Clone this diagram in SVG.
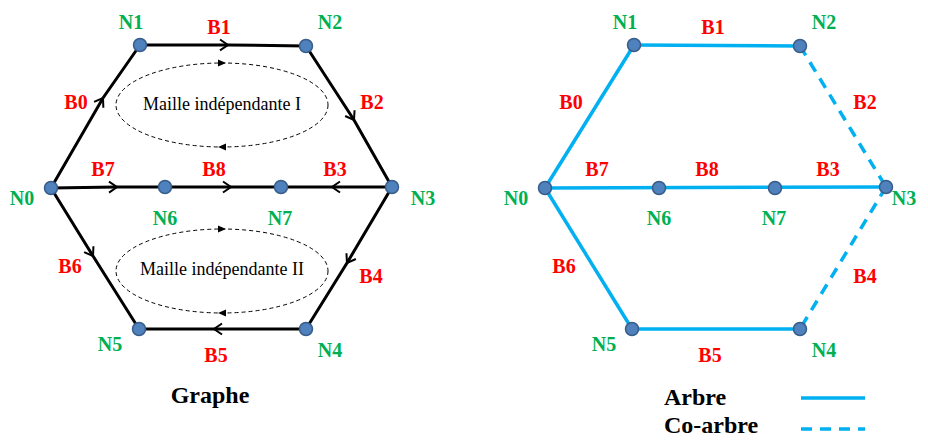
<svg xmlns="http://www.w3.org/2000/svg" width="928" height="440" viewBox="0 0 928 440">
<style>
.e{stroke:#000;stroke-width:3;fill:none}
.t{stroke:#00B0F0;stroke-width:3.5;fill:none}
.c{stroke:#00B0F0;stroke-width:3.5;fill:none;stroke-dasharray:11,8}
.n{fill:#4F81BD;stroke:#385D8A;stroke-width:1.5}
text{font-family:'Liberation Serif','Times New Roman','DejaVu Serif',serif}
.nl{font-weight:bold;font-size:20px;fill:#00B050;text-anchor:middle}
.bl{font-weight:bold;font-size:20px;fill:#FF0000;text-anchor:middle}
.m{font-size:18px;fill:#000;text-anchor:middle}
.ti{font-weight:bold;font-size:24px;fill:#000}
.el{stroke:#000;stroke-width:1;fill:none;stroke-dasharray:4,3}
</style>
<defs>
<marker id="chev" markerUnits="userSpaceOnUse" markerWidth="14" markerHeight="14" viewBox="-10 -7 14 14" refX="0" refY="0" orient="auto">
<path d="M-8,-5.5 L0,0 L-8,5.5" fill="none" stroke="#000" stroke-width="2"/>
</marker>
<marker id="tri" markerUnits="userSpaceOnUse" markerWidth="10" markerHeight="10" viewBox="-8 -4 10 8" refX="0" refY="0" orient="auto">
<path d="M-8,-3.5 L0,0 L-8,3.5 Z" fill="#000"/>
</marker>
</defs>

<g id="connectors">
<path id="B0" class="e" d="M51,188 L103,98 L140,45" marker-mid="url(#chev)"/>
<path id="B1" class="e" d="M140,45 L228,45 L306,46" marker-mid="url(#chev)"/>
<path id="B2" class="e" d="M306,46 L354,120 L392,187" marker-mid="url(#chev)"/>
<path id="B3" class="e" d="M392,187 L332,187 L281,187" marker-mid="url(#chev)"/>
<path id="B7" class="e" d="M51,188 L117,187 L165,187" marker-mid="url(#chev)"/>
<path id="B8" class="e" d="M165,187 L231,187 L281,187" marker-mid="url(#chev)"/>
<path id="B6" class="e" d="M51,188 L93,256 L139,329" marker-mid="url(#chev)"/>
<path id="B4" class="e" d="M392,187 L347,263 L306,329" marker-mid="url(#chev)"/>
<path id="B5" class="e" d="M306,329 L214,329 L139,329" marker-mid="url(#chev)"/>

<ellipse class="el" cx="222" cy="105" rx="106" ry="42"/>
<path d="M215,63 L226,63" stroke="none" fill="none" marker-end="url(#tri)"/>
<path d="M229,147 L218,147" stroke="none" fill="none" marker-end="url(#tri)"/>
<ellipse class="el" cx="222" cy="271" rx="106" ry="42"/>
<path d="M215,229 L226,229" stroke="none" fill="none" marker-end="url(#tri)"/>
<path d="M229,313 L218,313" stroke="none" fill="none" marker-end="url(#tri)"/>

<line class="t" x1="545" y1="188" x2="634" y2="45"/>
<line class="t" x1="634" y1="45" x2="800" y2="46"/>
<line class="c" x1="800" y1="46" x2="886" y2="187"/>
<line class="t" x1="545" y1="188" x2="886" y2="187"/>
<line class="t" x1="545" y1="188" x2="632" y2="329"/>
<line class="t" x1="632" y1="329" x2="800" y2="329"/>
<line class="c" x1="886" y1="187" x2="800" y2="329"/>

<line class="t" x1="801" y1="398" x2="865" y2="398"/>
<line class="c" x1="801" y1="429" x2="865" y2="429"/>
</g>

<g id="left-labels">
<text class="m" x="222" y="110">Maille indépendante I</text>
<text class="m" x="222" y="275">Maille indépendante II</text>
<text class="bl" x="219" y="34">B1</text>
<text class="bl" x="76" y="109">B0</text>
<text class="bl" x="372" y="109">B2</text>
<text class="bl" x="103" y="176">B7</text>
<text class="bl" x="214" y="176">B8</text>
<text class="bl" x="335" y="176">B3</text>
<text class="bl" x="70" y="273">B6</text>
<text class="bl" x="371" y="283">B4</text>
<text class="bl" x="216" y="362">B5</text>
<text class="ti" x="210" y="403" text-anchor="middle">Graphe</text>
</g>

<g id="L-N0"><circle class="n" cx="51" cy="188" r="6.5"/><text class="nl" x="22" y="205">N0</text></g>
<g id="L-N1"><circle class="n" cx="140" cy="45" r="6.5"/><text class="nl" x="131" y="29">N1</text></g>
<g id="L-N2"><circle class="n" cx="306" cy="46" r="6.5"/><text class="nl" x="330" y="29">N2</text></g>
<g id="L-N3"><circle class="n" cx="392" cy="187" r="6.5"/><text class="nl" x="423" y="205">N3</text></g>
<g id="L-N4"><circle class="n" cx="306" cy="329" r="6.5"/><text class="nl" x="330" y="357">N4</text></g>
<g id="L-N5"><circle class="n" cx="139" cy="329" r="6.5"/><text class="nl" x="110" y="351">N5</text></g>
<g id="L-N6"><circle class="n" cx="165" cy="187" r="6.5"/><text class="nl" x="165" y="225">N6</text></g>
<g id="L-N7"><circle class="n" cx="281" cy="187" r="6.5"/><text class="nl" x="280" y="225">N7</text></g>

<g id="right-labels">
<text class="bl" x="713" y="34">B1</text>
<text class="bl" x="571" y="109">B0</text>
<text class="bl" x="865" y="109">B2</text>
<text class="bl" x="597" y="176">B7</text>
<text class="bl" x="707" y="176">B8</text>
<text class="bl" x="828" y="176">B3</text>
<text class="bl" x="564" y="273">B6</text>
<text class="bl" x="865" y="283">B4</text>
<text class="bl" x="710" y="362">B5</text>
<text class="ti" x="664" y="405">Arbre</text>
<text class="ti" x="664" y="433">Co-arbre</text>
</g>

<g id="R-N0"><circle class="n" cx="545" cy="188" r="6.5"/><text class="nl" x="516" y="205">N0</text></g>
<g id="R-N1"><circle class="n" cx="634" cy="45" r="6.5"/><text class="nl" x="625" y="29">N1</text></g>
<g id="R-N2"><circle class="n" cx="800" cy="46" r="6.5"/><text class="nl" x="824" y="29">N2</text></g>
<g id="R-N3"><circle class="n" cx="886" cy="187" r="6.5"/><text class="nl" x="904" y="205" text-anchor="start">N3</text></g>
<g id="R-N4"><circle class="n" cx="800" cy="329" r="6.5"/><text class="nl" x="824" y="357">N4</text></g>
<g id="R-N5"><circle class="n" cx="632" cy="329" r="6.5"/><text class="nl" x="604" y="351">N5</text></g>
<g id="R-N6"><circle class="n" cx="659" cy="188" r="6.5"/><text class="nl" x="659" y="225">N6</text></g>
<g id="R-N7"><circle class="n" cx="775" cy="188" r="6.5"/><text class="nl" x="774" y="225">N7</text></g>
</svg>
